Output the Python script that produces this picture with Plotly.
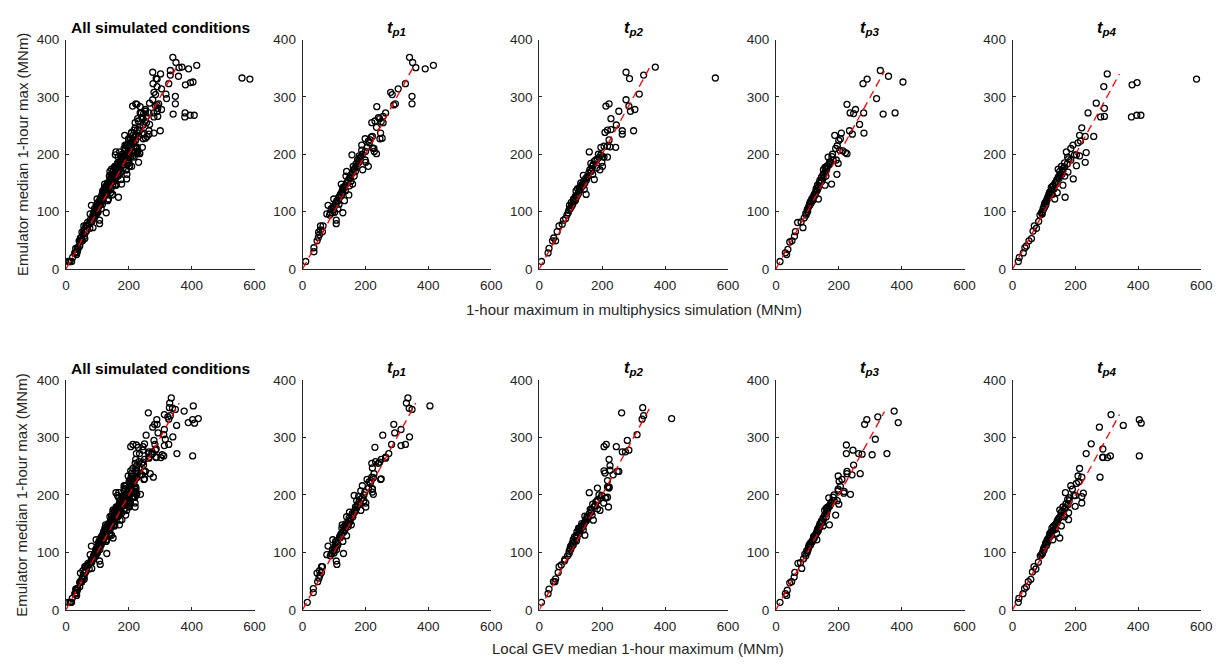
import plotly.graph_objects as go

# Emulator median 1-hour max (MNm), multiphysics simulation 1-hour max (MNm)
# and local GEV median 1-hour max (MNm) for each peak period t_p1..t_p4.
tp1_emu = [13, 30, 37, 49, 55, 64, 68, 75, 75, 65, 60, 85, 79, 94, 96, 111, 105, 98, 122, 119,
           113, 99, 98, 105, 128, 136, 142, 148, 150, 129, 119, 145, 153, 148, 170, 162, 162, 170, 179, 199,
           190, 197, 207, 216, 190, 173, 179, 186, 227, 223, 231, 210, 201, 255, 247, 283, 264, 237, 227, 255,
           272, 308, 304, 286, 288, 314, 323, 369, 360, 351, 349, 355, 301, 288,
           110, 115, 125, 130, 135, 140, 145, 155, 158, 165, 175, 183, 185, 195, 200, 205, 212, 220, 225, 230,
           258, 262, 257, 266, 228, 211, 205,
           118, 126, 132, 138, 143, 150, 160, 168, 172, 178, 188, 193, 98, 103, 108]
tp1_sim = [10, 36, 36, 46, 50, 51, 57, 57, 65, 63, 54, 107, 107, 86, 77, 81, 91, 88, 99, 109,
           116, 102, 128, 112, 123, 136, 128, 123, 140, 147, 133, 149, 154, 159, 140, 138, 164, 168, 161, 157,
           175, 180, 188, 188, 199, 191, 209, 201, 199, 209, 222, 227, 235, 220, 235, 236, 241, 248, 246, 256,
           264, 280, 285, 290, 295, 304, 327, 340, 350, 360, 390, 416, 348, 348,
           100, 105, 115, 120, 125, 130, 135, 145, 150, 155, 165, 170, 178, 185, 190, 200, 205, 212, 215, 218,
           230, 245, 250, 256, 253, 222, 228,
           112, 118, 126, 128, 133, 142, 150, 160, 162, 170, 178, 182, 95, 98, 100]
tp1_gev = [15, 34, 34, 48, 52, 46, 54, 60, 63, 60, 55, 107, 109, 88, 77, 81, 95, 92, 96, 105,
           112, 100, 130, 108, 118, 130, 125, 126, 138, 140, 128, 145, 150, 155, 149, 140, 160, 165, 168, 164,
           172, 178, 185, 190, 195, 185, 201, 201, 205, 212, 220, 222, 225, 220, 222, 230, 264, 227, 248, 241,
           274, 293, 255, 313, 283, 313, 290, 335, 330, 339, 348, 405, 340, 327,
           102, 110, 118, 122, 130, 135, 132, 150, 152, 158, 170, 175, 182, 190, 195, 198, 210, 215, 218, 225,
           232, 250, 245, 264, 250, 222, 222,
           108, 120, 122, 130, 136, 145, 148, 158, 165, 172, 180, 186, 92, 100, 104]

tp2_emu = [13, 28, 36, 49, 49, 54, 65, 75, 78, 85, 88, 94, 102, 111, 116, 122, 127, 130, 136, 142,
           146, 163, 139, 130, 204, 184, 173, 165, 156, 176, 195, 199, 196, 195, 186, 179, 173, 195, 212, 214,
           214, 213, 225, 212, 238, 284, 288, 242, 243, 262, 251, 275, 241, 235, 343, 332, 295, 284, 275, 278,
           241, 305, 338, 352, 333,
           105, 110, 118, 125, 133, 138, 144, 150, 155, 160, 168, 170, 180, 190, 200, 150, 120, 140,
           98, 107, 113, 120, 128, 135, 142, 148, 153, 158, 162, 175, 182, 188, 192]
tp2_sim = [7, 28, 31, 42, 52, 46, 57, 63, 73, 77, 84, 88, 94, 96, 102, 109, 115, 123, 117, 128,
           133, 140, 143, 149, 159, 164, 161, 170, 175, 182, 191, 196, 201, 206, 199, 201, 193, 217, 196, 206,
           217, 225, 222, 243, 209, 212, 222, 217, 228, 228, 245, 253, 264, 264, 276, 287, 276, 285, 290, 304,
           300, 318, 332, 369, 560,
           98, 104, 112, 118, 125, 130, 137, 145, 150, 152, 158, 165, 170, 180, 188, 132, 115, 122,
           92, 100, 106, 110, 120, 126, 132, 138, 142, 148, 155, 168, 172, 175, 185]
tp2_gev = [7, 28, 31, 45, 50, 52, 60, 63, 70, 80, 82, 90, 95, 100, 105, 108, 112, 118, 120, 125,
           135, 145, 140, 145, 159, 170, 165, 168, 172, 185, 195, 199, 217, 212, 205, 220, 193, 210, 185, 222,
           217, 220, 217, 222, 209, 206, 213, 206, 225, 222, 225, 264, 248, 235, 262, 327, 280, 245, 274, 285,
           253, 311, 332, 329, 421,
           100, 103, 110, 120, 128, 130, 138, 143, 150, 155, 160, 165, 175, 185, 190, 135, 118, 125,
           95, 98, 108, 112, 118, 128, 130, 140, 145, 150, 152, 162, 178, 180, 186]

tp3_emu = [13, 28, 25, 34, 47, 49, 57, 65, 81, 82, 72, 89, 94, 100, 108, 113, 117, 122, 128, 133,
           136, 122, 146, 150, 153, 173, 177, 179, 162, 146, 195, 187, 148, 190, 190, 165, 184, 233, 210, 224,
           207, 237, 227, 206, 203, 201, 287, 272, 271, 278, 235, 241, 252, 272, 323, 331, 237, 297, 346, 336,
           270, 272, 326,
           103, 110, 115, 120, 125, 130, 140, 142, 155, 160, 165, 170, 180, 185, 200, 215,
           97, 104, 112, 118, 124, 128, 135, 138, 144, 152, 158, 168, 175, 182, 196]
tp3_sim = [13, 30, 34, 38, 44, 51, 59, 62, 69, 80, 86, 90, 96, 101, 104, 107, 109, 114, 121, 125,
           130, 135, 132, 138, 146, 151, 156, 161, 159, 156, 166, 172, 177, 182, 192, 194, 198, 187, 190, 200,
           203, 208, 205, 213, 221, 226, 226, 236, 247, 253, 243, 234, 266, 279, 277, 290, 280, 320, 332, 358,
           341, 379, 404,
           100, 106, 112, 118, 118, 122, 128, 135, 140, 145, 150, 158, 165, 170, 180, 195,
           95, 100, 108, 112, 118, 124, 127, 132, 136, 143, 150, 155, 162, 170, 178]
tp3_gev = [13, 30, 34, 36, 44, 50, 58, 60, 70, 78, 82, 88, 95, 100, 104, 110, 112, 118, 120, 128,
           132, 130, 138, 140, 145, 155, 160, 165, 160, 150, 168, 175, 170, 185, 195, 190, 200, 198, 198, 201,
           198, 226, 210, 217, 216, 237, 224, 224, 274, 245, 242, 226, 247, 263, 282, 289, 268, 316, 376, 324,
           306, 353, 389,
           98, 105, 108, 115, 122, 125, 132, 135, 145, 150, 155, 162, 170, 175, 185, 205,
           92, 102, 105, 115, 120, 122, 130, 135, 140, 148, 152, 160, 165, 172, 182]

tp4_emu = [13, 20, 28, 37, 40, 49, 53, 66, 75, 71, 83, 94, 96, 105, 110, 116, 122, 130, 134, 142,
           130, 145, 122, 133, 174, 163, 179, 165, 146, 162, 125, 204, 183, 169, 190, 157, 216, 199, 199, 180,
           197, 220, 246, 233, 223, 186, 203, 231, 272, 231, 289, 265, 266, 318, 280, 340, 321, 325, 265, 268,
           268, 331,
           100, 108, 112, 118, 125, 128, 138, 140, 150, 155, 160, 170, 175, 185, 195, 210,
           98, 104, 114, 120, 126, 132, 136, 145, 148, 152, 158, 165, 172, 178, 192]
tp4_sim = [18, 21, 34, 39, 44, 52, 60, 65, 69, 76, 83, 87, 94, 97, 100, 104, 111, 115, 118, 123,
           126, 129, 134, 142, 145, 150, 155, 157, 160, 166, 167, 171, 174, 176, 185, 193, 192, 197, 203, 203,
           213, 208, 220, 213, 216, 231, 234, 231, 240, 258, 266, 280, 292, 290, 292, 301, 380, 396, 378, 395,
           408, 585,
           95, 102, 106, 108, 112, 118, 125, 132, 135, 140, 145, 150, 160, 165, 175, 185,
           92, 98, 102, 108, 114, 120, 122, 128, 138, 140, 148, 152, 158, 165, 178]
tp4_gev = [18, 20, 33, 38, 44, 50, 58, 63, 68, 74, 82, 88, 92, 98, 102, 105, 110, 118, 120, 125,
           122, 130, 128, 140, 150, 152, 160, 162, 155, 165, 150, 168, 176, 178, 180, 178, 185, 195, 200, 199,
           220, 203, 213, 208, 210, 220, 225, 220, 234, 278, 250, 287, 287, 276, 287, 313, 352, 409, 302, 311,
           403, 403,
           95, 100, 108, 112, 115, 120, 128, 135, 138, 142, 148, 155, 165, 170, 180, 190,
           95, 100, 105, 110, 116, 118, 125, 130, 135, 142, 145, 155, 160, 168, 175]

# End point of the 1:1 reference line in each panel (All, t_p1..t_p4)
ref_end = [360, 360, 352, 345, 340]

panel_titles = ["<b>All simulated conditions</b>",
                "<b><i>t</i></b><sub><b><i>p1</i></b></sub>",
                "<b><i>t</i></b><sub><b><i>p2</i></b></sub>",
                "<b><i>t</i></b><sub><b><i>p3</i></b></sub>",
                "<b><i>t</i></b><sub><b><i>p4</i></b></sub>"]
x_titles = ["1-hour maximum in multiphysics simulation (MNm)",
            "Local GEV median 1-hour maximum (MNm)"]
y_title = "Emulator median 1-hour max (MNm)"
x_ticks = [0, 200, 400, 600]
y_ticks = [0, 100, 200, 300, 400]

emu = [tp1_emu, tp2_emu, tp3_emu, tp4_emu]
sim = [tp1_sim, tp2_sim, tp3_sim, tp4_sim]
gev = [tp1_gev, tp2_gev, tp3_gev, tp4_gev]

W, H = 1225, 665
FONT = "Liberation Sans, Arial, sans-serif"
AX = "#262626"
col_x0 = [62.7 + i * 239.6 for i in range(5)]
panel_w = 191.0
row_top = [33.3, 381.7]
row_bot = [268.0, 616.7]

fig = go.Figure()
annotations = []

for r in range(2):
    xs_src = sim if r == 0 else gev
    for c in range(5):
        k = r * 5 + c + 1
        xa = "x" if k == 1 else f"x{k}"
        ya = "y" if k == 1 else f"y{k}"
        if c == 0:
            xs = [v for lst in xs_src for v in lst]
            ys = [v for lst in emu for v in lst]
        else:
            xs = xs_src[c - 1]
            ys = emu[c - 1]
        fig.add_trace(go.Scatter(
            x=xs, y=ys, mode="markers", xaxis=xa, yaxis=ya, showlegend=False,
            marker=dict(symbol="circle-open", size=6, color="black",
                        line=dict(width=1.3, color="black"))))
        fig.add_trace(go.Scatter(
            x=[0, ref_end[c]], y=[0, ref_end[c]], mode="lines", xaxis=xa, yaxis=ya,
            showlegend=False, line=dict(color="#ff0000", width=1.3, dash="8px,5px")))

        x0 = col_x0[c]
        axis_common = dict(showline=True, linecolor=AX, linewidth=1, ticks="inside",
                           ticklen=3, tickcolor=AX, tickwidth=1, showgrid=False,
                           zeroline=False, mirror=False,
                           tickfont=dict(family=FONT, size=13.5, color=AX))
        fig.layout[xa.replace("x", "xaxis")] = dict(
            domain=[x0 / W, (x0 + panel_w) / W], range=[0, 600], tickvals=x_ticks,
            anchor=ya, ticklabelstandoff=4, **axis_common)
        fig.layout[ya.replace("y", "yaxis")] = dict(
            domain=[1 - row_bot[r] / H, 1 - row_top[r] / H], range=[0, 400], tickvals=y_ticks,
            anchor=xa, ticklabelstandoff=3, **axis_common)

        annotations.append(dict(
            text=panel_titles[c], x=(x0 + panel_w / 2) / W, y=1 - (row_top[r] - 12) / H,
            xref="paper", yref="paper", xanchor="center", yanchor="middle", showarrow=False,
            font=dict(family=FONT, size=15.5 if c == 0 else 16.5, color="black")))

    annotations.append(dict(
        text=y_title, x=18 / W, y=1 - (row_top[r] + row_bot[r]) / 2 / H, textangle=-90,
        xref="paper", yref="paper", xanchor="center", yanchor="middle", showarrow=False,
        font=dict(family=FONT, size=15, color=AX)))

annotations.append(dict(text=x_titles[0], x=637.5 / W, y=1 - 309 / H, xref="paper", yref="paper",
                        xanchor="center", yanchor="middle", showarrow=False,
                        font=dict(family=FONT, size=15, color=AX)))
annotations.append(dict(text=x_titles[1], x=642 / W, y=1 - 656 / H, xref="paper", yref="paper",
                        xanchor="center", yanchor="middle", showarrow=False,
                        font=dict(family=FONT, size=15, color=AX)))

fig.update_layout(width=W, height=H, margin=dict(l=0, r=0, t=0, b=0),
                  paper_bgcolor="white", plot_bgcolor="white",
                  annotations=annotations, font=dict(family=FONT))
fig.write_html("out.html")
